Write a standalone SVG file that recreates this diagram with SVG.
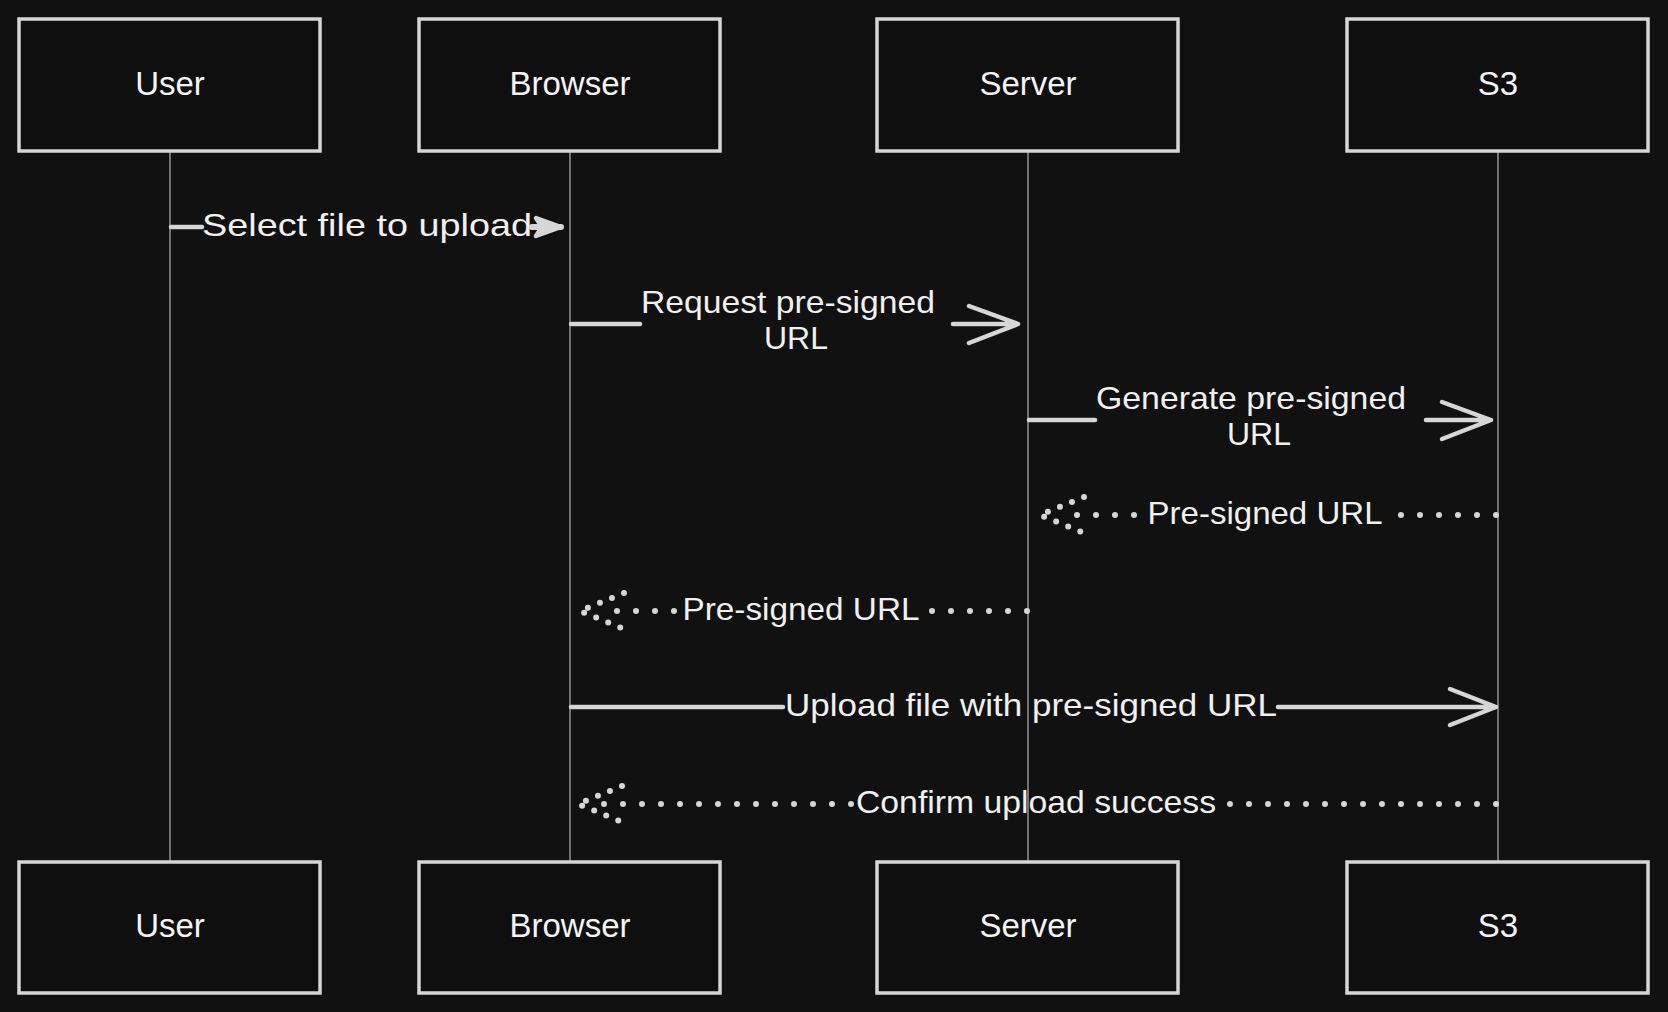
<svg xmlns="http://www.w3.org/2000/svg" width="1668" height="1012" viewBox="0 0 1668 1012">
<style>
.bg{fill:#111111}
.actor rect{fill:#0f0f0f;stroke:#d6d6d6;stroke-width:3.5}
.actor text{fill:#f4f4f4;font-family:"Liberation Sans",Arial,sans-serif;font-size:33px;text-anchor:middle}
.life{stroke:#8c8c8c;stroke-width:1.6;fill:none}
.msg{stroke:#d6d6d6;stroke-width:4.5;fill:none;stroke-linecap:round;stroke-linejoin:round}
.dot{stroke:#d6d6d6;stroke-width:6;fill:none;stroke-linecap:round;stroke-dasharray:0 19}
.dotarr{stroke:#d6d6d6;stroke-width:6;fill:none;stroke-linecap:round;stroke-dasharray:0 13}
.lbl{fill:#f0f0f0;font-family:"Liberation Sans",Arial,sans-serif;font-size:32px;text-anchor:middle}
</style>
<rect class="bg" x="0" y="0" width="1668" height="1012"/>
<g id="lifelines">
<line class="life" x1="170" y1="151" x2="170" y2="862"/>
<line class="life" x1="570" y1="151" x2="570" y2="862"/>
<line class="life" x1="1028" y1="151" x2="1028" y2="862"/>
<line class="life" x1="1498" y1="151" x2="1498" y2="862"/>
</g>
<g id="actor-user-top" class="actor"><rect x="19" y="19" width="301" height="132"/><text x="170" y="95">User</text></g>
<g id="actor-browser-top" class="actor"><rect x="419" y="19" width="301" height="132"/><text x="570" y="95">Browser</text></g>
<g id="actor-server-top" class="actor"><rect x="877" y="19" width="301" height="132"/><text x="1028" y="95">Server</text></g>
<g id="actor-s3-top" class="actor"><rect x="1347" y="19" width="301" height="132"/><text x="1498" y="95">S3</text></g>
<g id="actor-user-bottom" class="actor"><rect x="19" y="862" width="301" height="131"/><text x="170" y="937">User</text></g>
<g id="actor-browser-bottom" class="actor"><rect x="419" y="862" width="301" height="131"/><text x="570" y="937">Browser</text></g>
<g id="actor-server-bottom" class="actor"><rect x="877" y="862" width="301" height="131"/><text x="1028" y="937">Server</text></g>
<g id="actor-s3-bottom" class="actor"><rect x="1347" y="862" width="301" height="131"/><text x="1498" y="937">S3</text></g>
<g id="connectors">
<!-- 1 Select file to upload -->
<path class="msg" d="M171,227 L202,227"/>
<text class="lbl" x="367" y="236" textLength="330" lengthAdjust="spacingAndGlyphs">Select file to upload</text>
<path class="msg" d="M532,227 L561,227" style="stroke-width:6"/>
<path class="msg" d="M536,218 L561,227 L536,236 L542,227 Z" style="fill:#d6d6d6"/>
<!-- 2 Request pre-signed URL -->
<path class="msg" d="M571,324 L640,324"/>
<text class="lbl" x="788" y="313" textLength="294" lengthAdjust="spacingAndGlyphs">Request pre-signed</text>
<text class="lbl" x="796" y="349">URL</text>
<path class="msg" d="M953,324 L1018,324 M969,306 L1018,324 L969,343"/>
<!-- 3 Generate pre-signed URL -->
<path class="msg" d="M1029,420 L1095,420"/>
<text class="lbl" x="1251" y="409" textLength="310" lengthAdjust="spacingAndGlyphs">Generate pre-signed</text>
<text class="lbl" x="1259" y="445">URL</text>
<path class="msg" d="M1426,420 L1491,420 M1442,402 L1491,420 L1442,439"/>
<!-- 4 Pre-signed URL (S3 -> Server) -->
<path class="dot" d="M1496,515 L1392,515"/>
<text class="lbl" x="1265" y="524" textLength="235" lengthAdjust="spacingAndGlyphs">Pre-signed URL</text>
<path class="dot" d="M1134,515 L1058,515"/>
<path class="dotarr" d="M1084,497 L1040,515 L1084,533"/>
<!-- 5 Pre-signed URL (Server -> Browser) -->
<path class="dot" d="M1027,611 L923,611"/>
<text class="lbl" x="801" y="620" textLength="237" lengthAdjust="spacingAndGlyphs">Pre-signed URL</text>
<path class="dot" d="M674,611 L598,611"/>
<path class="dotarr" d="M624,593 L580,611 L624,629"/>
<!-- 6 Upload file with pre-signed URL -->
<path class="msg" d="M571,707 L783,707"/>
<text class="lbl" x="1031" y="716" textLength="492" lengthAdjust="spacingAndGlyphs">Upload file with pre-signed URL</text>
<path class="msg" d="M1278,707 L1496,707 M1450,689 L1496,707 L1450,725"/>
<!-- 7 Confirm upload success -->
<path class="dot" d="M1496,804 L1222,804"/>
<text class="lbl" x="1036" y="813" textLength="360" lengthAdjust="spacingAndGlyphs">Confirm upload success</text>
<path class="dot" d="M851,804 L598,804"/>
<path class="dotarr" d="M622,786 L578,804 L622,822"/>
</g>
</svg>
